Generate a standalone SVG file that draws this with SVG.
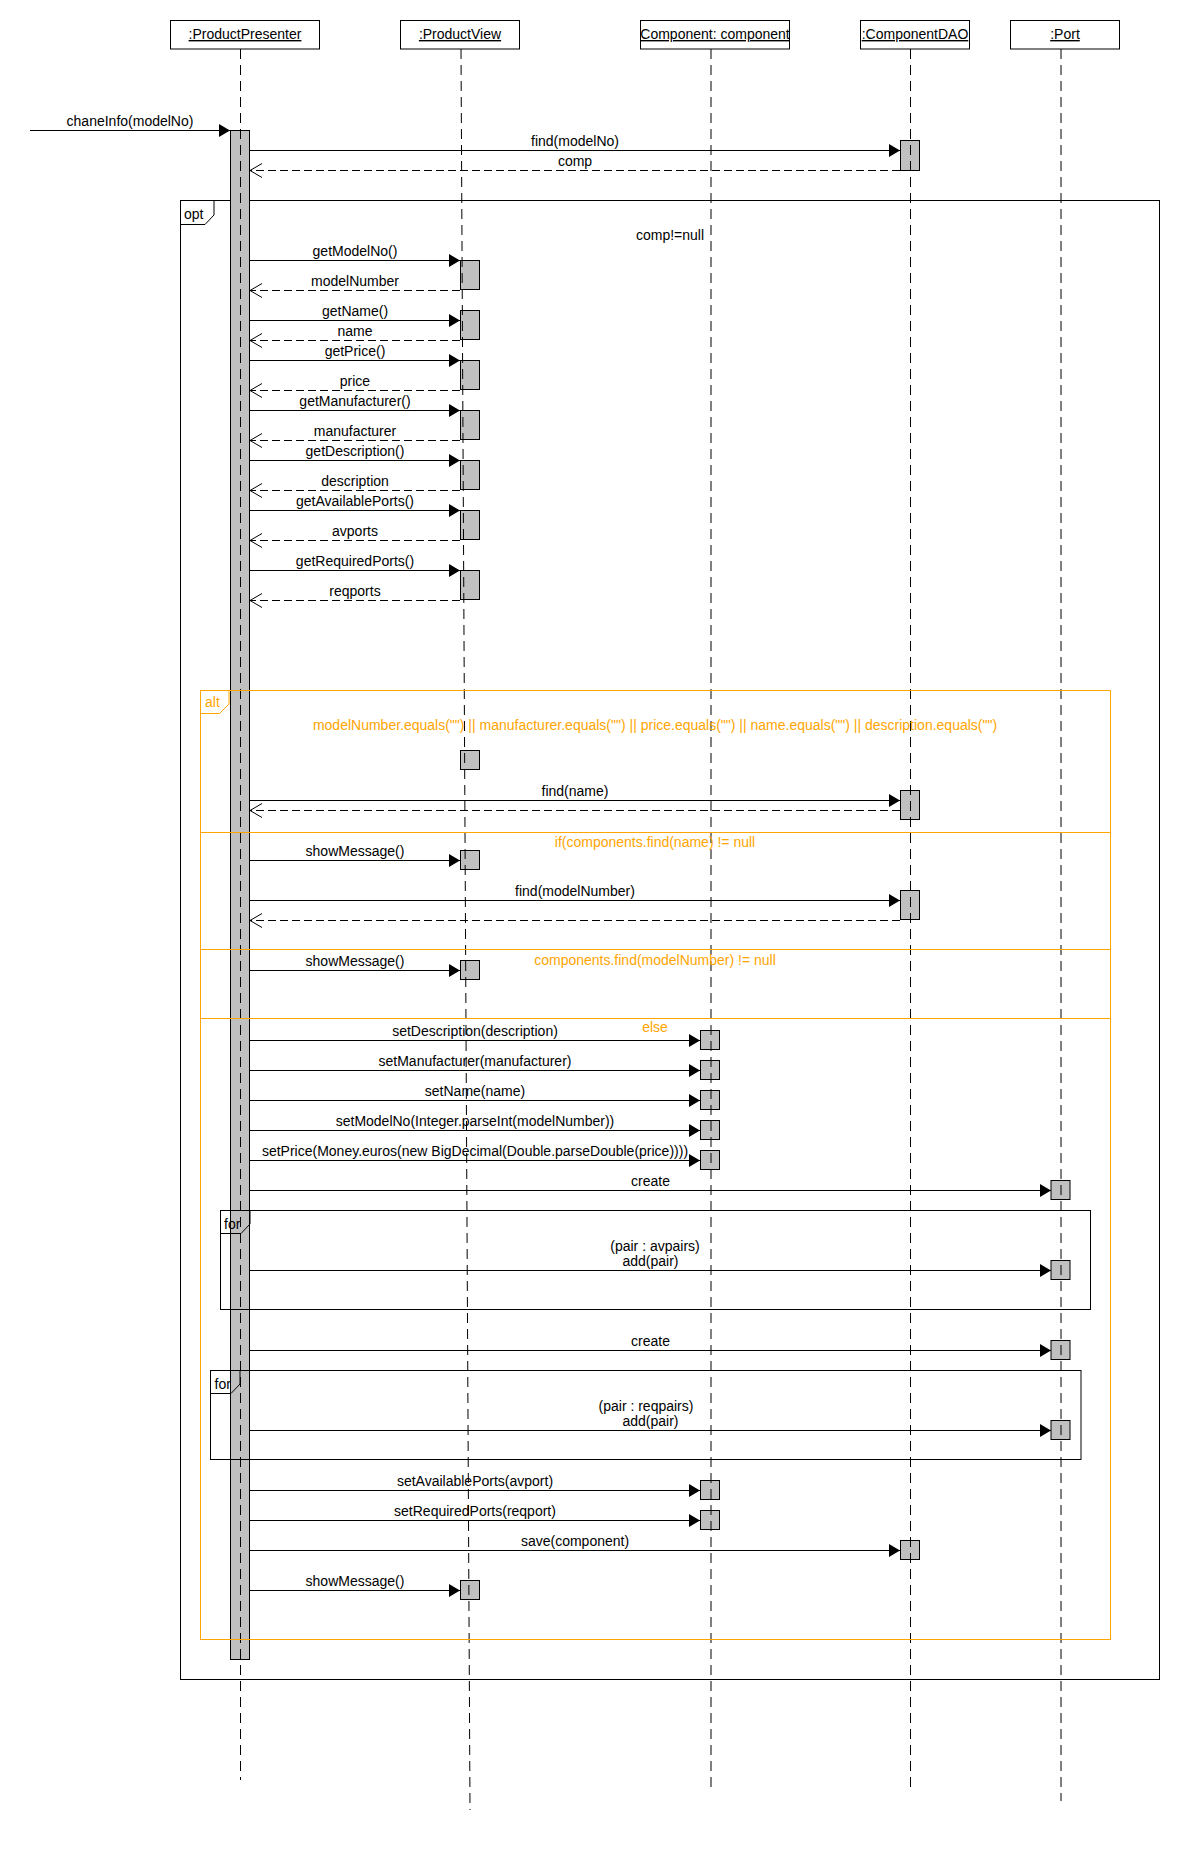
<svg xmlns="http://www.w3.org/2000/svg" width="1180" height="1850" viewBox="0 0 1180 1850">
<style>
text{font-family:"Liberation Sans",Arial,sans-serif;font-size:14px;fill:#000}
.hd{fill:#fff;stroke:#000;stroke-width:1}
.ht{font-size:14px;text-anchor:middle;text-decoration:underline}
.ll{stroke:#000;stroke-width:1;stroke-dasharray:10 6;fill:none}
.act{fill:#c0c0c0;stroke:#000;stroke-width:1}
.fr{fill:none;stroke:#000;stroke-width:1}
.fo{fill:none;stroke:#ffa500;stroke-width:1}
.fl{font-size:14px}
.og{fill:#ffa500;text-anchor:middle}
.c{text-anchor:middle}
.m{stroke:#000;stroke-width:1;fill:none;marker-end:url(#fa)}
.r{stroke:#000;stroke-width:1;fill:none;stroke-dasharray:8 4;marker-end:url(#oa)}
</style>
<defs>
<marker id="fa" markerUnits="userSpaceOnUse" markerWidth="12" markerHeight="14" refX="11" refY="6.5" orient="auto" overflow="visible"><path d="M0,0 L11,6.5 L0,13 Z" fill="#000"/></marker>
<marker id="oa" markerUnits="userSpaceOnUse" markerWidth="14" markerHeight="16" refX="12" refY="7" orient="auto" overflow="visible"><path d="M0,0 L12,7 L0,14" fill="none" stroke="#000" stroke-width="1"/></marker>
</defs>
<rect width="1180" height="1850" fill="#fff"/>

<g id="frame-opt">
<rect class="fr" x="180.5" y="200.5" width="979" height="1479"/>
<path class="fr" d="M180.5,224.5 H205 L214,215 V200.5"/>
<text class="fl" x="184" y="219">opt</text>
<text class="c" x="670" y="240">comp!=null</text>
</g>

<g id="ProductPresenter">
<rect class="hd" x="170.5" y="20.5" width="149" height="28.5"/>
<text class="ht" x="245" y="39">:ProductPresenter</text>
<rect class="act" x="230.5" y="130.5" width="19" height="1529"/>
<line class="ll" x1="240.5" y1="49" x2="240.5" y2="1780"/>
</g>

<g id="ProductView">
<rect class="hd" x="400.5" y="20.5" width="119" height="28.5"/>
<text class="ht" x="460" y="39">:ProductView</text>
<rect class="act" x="460.5" y="260.5" width="19" height="29"/>
<rect class="act" x="460.5" y="310.5" width="19" height="29"/>
<rect class="act" x="460.5" y="360.5" width="19" height="29"/>
<rect class="act" x="460.5" y="410.5" width="19" height="29"/>
<rect class="act" x="460.5" y="460.5" width="19" height="29"/>
<rect class="act" x="460.5" y="510.5" width="19" height="29"/>
<rect class="act" x="460.5" y="570.5" width="19" height="29"/>
<rect class="act" x="460.5" y="750.5" width="19" height="19"/>
<rect class="act" x="460.5" y="850.5" width="19" height="19"/>
<rect class="act" x="460.5" y="960.5" width="19" height="19"/>
<rect class="act" x="460.5" y="1580.5" width="19" height="19"/>
<line class="ll" x1="461" y1="49" x2="470" y2="1810"/>
</g>

<g id="Component">
<rect class="hd" x="640.5" y="20.5" width="149" height="28.5"/>
<text class="ht" x="715" y="39">Component: component</text>
<rect class="act" x="700.5" y="1030.5" width="19" height="19"/>
<rect class="act" x="700.5" y="1060.5" width="19" height="19"/>
<rect class="act" x="700.5" y="1090.5" width="19" height="19"/>
<rect class="act" x="700.5" y="1120.5" width="19" height="19"/>
<rect class="act" x="700.5" y="1150.5" width="19" height="19"/>
<rect class="act" x="700.5" y="1480.5" width="19" height="19"/>
<rect class="act" x="700.5" y="1510.5" width="19" height="19"/>
<line class="ll" x1="711" y1="49" x2="711" y2="1787"/>
</g>

<g id="ComponentDAO">
<rect class="hd" x="860.5" y="20.5" width="109" height="28.5"/>
<text class="ht" x="915" y="39">:ComponentDAO</text>
<rect class="act" x="900.5" y="140.5" width="19" height="30"/>
<rect class="act" x="900.5" y="790.5" width="19" height="29"/>
<rect class="act" x="900.5" y="890.5" width="19" height="29"/>
<rect class="act" x="900.5" y="1540.5" width="19" height="19"/>
<line class="ll" x1="910.5" y1="49" x2="910.5" y2="1787"/>
</g>

<g id="Port">
<rect class="hd" x="1010.5" y="20.5" width="109" height="28.5"/>
<text class="ht" x="1065" y="39">:Port</text>
<rect class="act" x="1051" y="1180.5" width="19" height="19"/>
<rect class="act" x="1051" y="1260.5" width="19" height="19"/>
<rect class="act" x="1051" y="1340.5" width="19" height="19"/>
<rect class="act" x="1051" y="1420.5" width="19" height="19"/>
<line class="ll" x1="1061" y1="49" x2="1061" y2="1801"/>
</g>

<g id="frame-alt">
<rect class="fo" x="200.5" y="690.5" width="910" height="949"/>
<path class="fo" d="M200.5,713.5 H219.5 L229,704 V690.5"/>
<line class="fo" x1="200.5" y1="832.5" x2="1110.5" y2="832.5"/>
<line class="fo" x1="200.5" y1="949.5" x2="1110.5" y2="949.5"/>
<line class="fo" x1="200.5" y1="1018.5" x2="1110.5" y2="1018.5"/>
<text class="fl" x="205" y="707" style="fill:#ffa500">alt</text>
<text class="og" x="655" y="730">modelNumber.equals("") || manufacturer.equals("") || price.equals("") || name.equals("") || description.equals("")</text>
<text class="og" x="655" y="847">if(components.find(name) != null</text>
<text class="og" x="655" y="965">components.find(modelNumber) != null</text>
<text class="og" x="655" y="1032">else</text>
</g>

<g id="frame-for-1">
<rect class="fr" x="220.5" y="1210.5" width="870" height="99"/>
<path class="fr" d="M220.5,1233.5 H241 L250,1224 V1210.5"/>
<text class="fl" x="224" y="1229">for</text>
<text class="c" x="655" y="1251">(pair : avpairs)</text>
</g>

<g id="frame-for-2">
<rect class="fr" x="210.5" y="1370.5" width="870.5" height="89"/>
<path class="fr" d="M210.5,1393.5 H231 L240,1384 V1370.5"/>
<text class="fl" x="214.5" y="1389">for</text>
<text class="c" x="646" y="1411">(pair : reqpairs)</text>
</g>

<g id="connectors">
<line class="m" x1="30" y1="130.5" x2="230" y2="130.5"/>
<line class="m" x1="250" y1="150.5" x2="900" y2="150.5"/>
<line class="r" x1="900" y1="170.5" x2="250" y2="170.5"/>
<line class="m" x1="250" y1="260.5" x2="460" y2="260.5"/>
<line class="r" x1="460" y1="290.5" x2="250" y2="290.5"/>
<line class="m" x1="250" y1="320.5" x2="460" y2="320.5"/>
<line class="r" x1="460" y1="340.5" x2="250" y2="340.5"/>
<line class="m" x1="250" y1="360.5" x2="460" y2="360.5"/>
<line class="r" x1="460" y1="390.5" x2="250" y2="390.5"/>
<line class="m" x1="250" y1="410.5" x2="460" y2="410.5"/>
<line class="r" x1="460" y1="440.5" x2="250" y2="440.5"/>
<line class="m" x1="250" y1="460.5" x2="460" y2="460.5"/>
<line class="r" x1="460" y1="490.5" x2="250" y2="490.5"/>
<line class="m" x1="250" y1="510.5" x2="460" y2="510.5"/>
<line class="r" x1="460" y1="540.5" x2="250" y2="540.5"/>
<line class="m" x1="250" y1="570.5" x2="460" y2="570.5"/>
<line class="r" x1="460" y1="600.5" x2="250" y2="600.5"/>
<line class="m" x1="250" y1="800.5" x2="900" y2="800.5"/>
<line class="r" x1="900" y1="810.5" x2="250" y2="810.5"/>
<line class="m" x1="250" y1="860.5" x2="460" y2="860.5"/>
<line class="m" x1="250" y1="900.5" x2="900" y2="900.5"/>
<line class="r" x1="900" y1="920.5" x2="250" y2="920.5"/>
<line class="m" x1="250" y1="970.5" x2="460" y2="970.5"/>
<line class="m" x1="250" y1="1040.5" x2="700" y2="1040.5"/>
<line class="m" x1="250" y1="1070.5" x2="700" y2="1070.5"/>
<line class="m" x1="250" y1="1100.5" x2="700" y2="1100.5"/>
<line class="m" x1="250" y1="1130.5" x2="700" y2="1130.5"/>
<line class="m" x1="250" y1="1160.5" x2="700" y2="1160.5"/>
<line class="m" x1="250" y1="1190.5" x2="1051" y2="1190.5"/>
<line class="m" x1="250" y1="1270.5" x2="1051" y2="1270.5"/>
<line class="m" x1="250" y1="1350.5" x2="1051" y2="1350.5"/>
<line class="m" x1="250" y1="1430.5" x2="1051" y2="1430.5"/>
<line class="m" x1="250" y1="1490.5" x2="700" y2="1490.5"/>
<line class="m" x1="250" y1="1520.5" x2="700" y2="1520.5"/>
<line class="m" x1="250" y1="1550.5" x2="900" y2="1550.5"/>
<line class="m" x1="250" y1="1590.5" x2="460" y2="1590.5"/>
<g class="labels">
<text class="c" x="130" y="126">chaneInfo(modelNo)</text>
<text class="c" x="575" y="146">find(modelNo)</text>
<text class="c" x="575" y="166">comp</text>
<text class="c" x="355" y="256">getModelNo()</text>
<text class="c" x="355" y="286">modelNumber</text>
<text class="c" x="355" y="316">getName()</text>
<text class="c" x="355" y="336">name</text>
<text class="c" x="355" y="356">getPrice()</text>
<text class="c" x="355" y="386">price</text>
<text class="c" x="355" y="406">getManufacturer()</text>
<text class="c" x="355" y="436">manufacturer</text>
<text class="c" x="355" y="456">getDescription()</text>
<text class="c" x="355" y="486">description</text>
<text class="c" x="355" y="506">getAvailablePorts()</text>
<text class="c" x="355" y="536">avports</text>
<text class="c" x="355" y="566">getRequiredPorts()</text>
<text class="c" x="355" y="596">reqports</text>
<text class="c" x="575" y="796">find(name)</text>
<text class="c" x="355" y="856">showMessage()</text>
<text class="c" x="575" y="896">find(modelNumber)</text>
<text class="c" x="355" y="966">showMessage()</text>
<text class="c" x="475" y="1036">setDescription(description)</text>
<text class="c" x="475" y="1066">setManufacturer(manufacturer)</text>
<text class="c" x="475" y="1096">setName(name)</text>
<text class="c" x="475" y="1126">setModelNo(Integer.parseInt(modelNumber))</text>
<text class="c" x="475" y="1156">setPrice(Money.euros(new BigDecimal(Double.parseDouble(price))))</text>
<text class="c" x="650.5" y="1186">create</text>
<text class="c" x="650.5" y="1266">add(pair)</text>
<text class="c" x="650.5" y="1346">create</text>
<text class="c" x="650.5" y="1426">add(pair)</text>
<text class="c" x="475" y="1486">setAvailablePorts(avport)</text>
<text class="c" x="475" y="1516">setRequiredPorts(reqport)</text>
<text class="c" x="575" y="1546">save(component)</text>
<text class="c" x="355" y="1586">showMessage()</text>
</g>
</g>
</svg>
